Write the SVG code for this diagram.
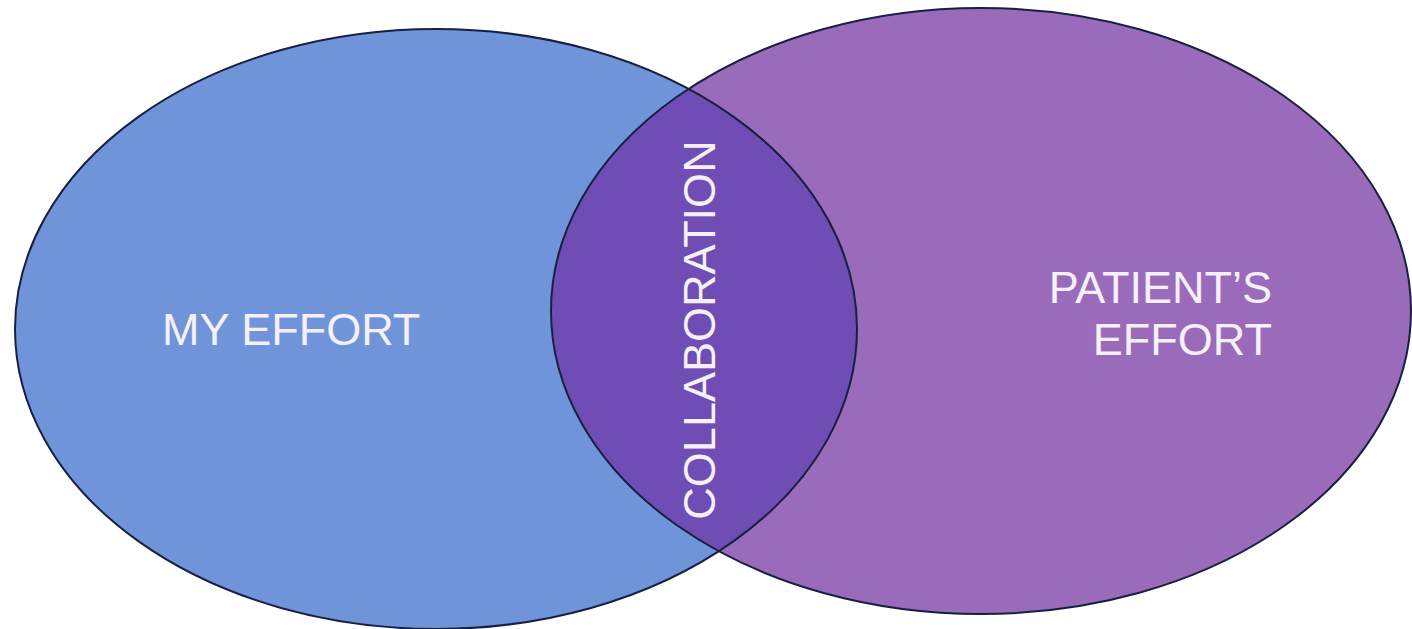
<svg xmlns="http://www.w3.org/2000/svg" width="1412" height="629" viewBox="0 0 1412 629">
<style>
.lbl{font-family:"Liberation Sans",Arial,sans-serif;font-size:45px;fill:#f6f0fb}
.edge{fill:none;stroke:#17203f;stroke-width:2}
</style>
<defs>
<clipPath id="clipL"><ellipse cx="436" cy="329" rx="421" ry="300"/></clipPath>
</defs>
<rect width="1412" height="629" fill="#ffffff"/>
<g id="my-effort">
<ellipse cx="436" cy="329" rx="421" ry="300" fill="#7094d9"/>
</g>
<g id="patients-effort">
<ellipse cx="981" cy="311" rx="430" ry="303" fill="#9a6bbb"/>
</g>
<g id="collaboration">
<ellipse cx="981" cy="311" rx="430" ry="303" fill="#6f4db5" clip-path="url(#clipL)"/>
</g>
<g id="outlines">
<ellipse class="edge" cx="436" cy="329" rx="421" ry="300"/>
<ellipse class="edge" cx="981" cy="311" rx="430" ry="303"/>
</g>
<g id="labels">
<text class="lbl" x="162" y="345">MY EFFORT</text>
<text class="lbl" x="1272" y="303" text-anchor="end">PATIENT’S</text>
<text class="lbl" x="1272" y="355" text-anchor="end">EFFORT</text>
<text class="lbl" x="715" y="330" text-anchor="middle" transform="rotate(-90 715 330)">COLLABORATION</text>
</g>
</svg>
